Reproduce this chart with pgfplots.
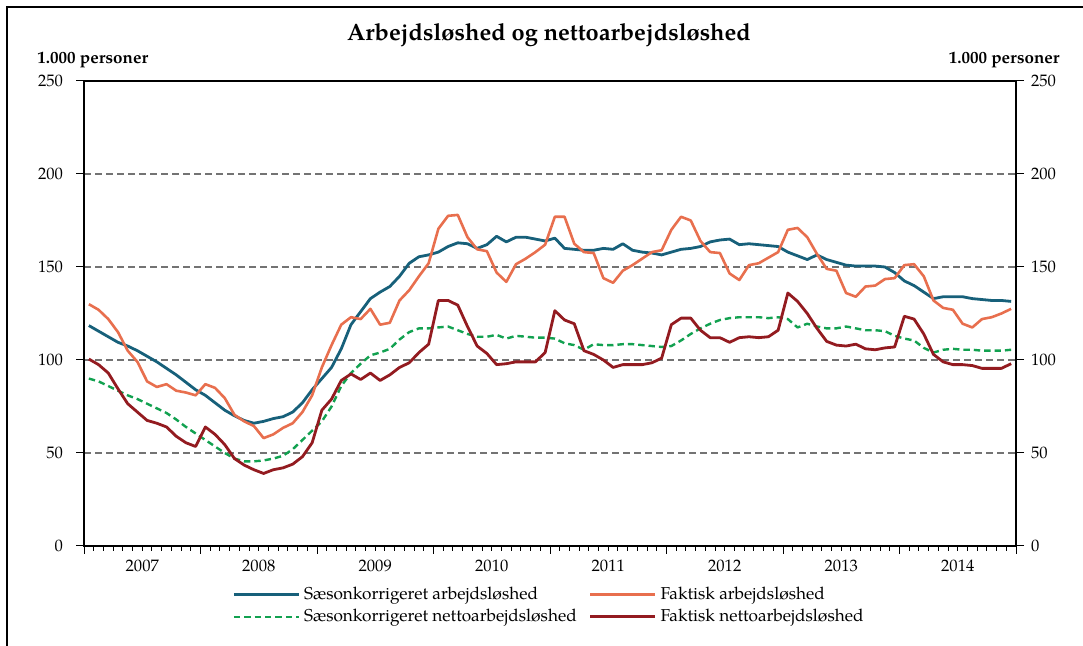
\documentclass[border=0pt]{standalone}
\usepackage{fontspec}
\setmainfont{TeX Gyre Pagella}
\usepackage{pgfplots}
\pgfplotsset{compat=1.18}
\usepackage{pgfplotstable}

\definecolor{teal1}{HTML}{17607A}
\definecolor{orange1}{HTML}{E86F4E}
\definecolor{darkred1}{HTML}{931B20}
\definecolor{green1}{HTML}{12A150}

\pgfplotstableread{
i sa fa sn fn
0 118.5 130 90 100.5
1 115.5 127 88.5 97.5
2 112.5 122 86 93
3 109.5 115 83.5 84.5
4 107.5 105 81 76.5
5 105 99 79 72
6 102 88.5 76.5 67.5
7 99 85.5 74 66
8 95.5 87 71.5 64
9 92 83.5 68 59
10 88 82.5 64 55.5
11 84 81 60.5 53.5
12 81 87 57 64
13 77 85 53.5 60
14 73 79.5 50 54.5
15 70 70.5 47 47
16 67.5 67 45.5 43.5
17 66 64.5 45.5 41
18 67 58 46 39
19 68.5 60 47 41
20 69.5 63.5 48.5 42
21 72 66 52 44
22 77 72 57 48
23 84 81 62 55.5
24 90 96 67 73
25 96 108 75 79
26 106 119 86 89
27 119 123 93 92.5
28 126 122 98 89.5
29 133 127.5 102.5 93
30 136.5 119 104 89
31 139.5 120 106 92
32 145 132 111 96
33 152 137.5 115 98.5
34 155.5 145 117 104
35 156.5 152 117 108.5
36 158 170.5 117.5 132
37 161 177.5 118 132
38 163 178 116 129.5
39 162.5 166 114 118
40 160 159.5 112.5 107.5
41 162 158.5 112.5 103.5
42 166.5 147 113.5 97.5
43 163.5 142 111.5 98
44 166 151.5 113 99
45 166 154.5 112.5 99
46 165 158 112 99
47 164 162 112 104
48 165.5 177 111.5 126.5
49 160 177 109 121.5
50 159.5 162.5 108 119.5
51 159 158 105.5 105
52 159 157.5 108.5 103
53 160 144 108 100
54 159.5 141.5 108 96
55 162.5 148 108.5 97.5
56 159 151 108.5 97.5
57 158 154.5 108 97.5
58 157.5 158 107.5 98.5
59 156.5 159 107 101
60 158 170 107.5 119
61 159.5 177 110.5 122.5
62 160 175 114 122.5
63 161 164 117 116
64 163.5 158 119.5 112
65 164.5 157.5 121.5 112
66 165 146.5 122.5 109.5
67 162 143 123 112
68 162.5 151 123 112.5
69 162 152 123 112
70 161.5 155 122.5 112.5
71 161 158 123 116
72 158 170 122 136
73 156 171 117.5 131.5
74 154 166 119.5 125
75 156.5 157 118 117
76 154 149 117 110
77 152.5 148 117 108
78 151 136 118 107.5
79 150.5 134 117 108.5
80 150.5 139.5 116 106
81 150.5 140 116 105.5
82 150 143.5 115.5 106.5
83 147 144 113 107
84 142.5 151 111.5 123.5
85 140 151.5 110.5 122
86 136.5 145 106.5 114
87 133 132 104 103
88 134 128 105.5 99
89 134 127 106 97.5
90 134 119.5 105.5 97.5
91 133 117.5 105.5 97
92 132.5 122 105 95.5
93 132 123 105 95.5
94 132 125 105 95.5
95 131.5 127.5 105.5 98
}\datatable

\begin{document}
\begin{tikzpicture}
\useasboundingbox (0,0) rectangle (541.5pt,323pt);
\draw[line width=0.6pt] (3.5pt,0pt) -- (3.5pt,319.5pt) -- (541.5pt,319.5pt);
\begin{axis}[
  at={(42pt,50pt)}, anchor=south west,
  scale only axis, width=466pt, height=232.5pt,
  xmin=-0.5, xmax=95.5, ymin=0, ymax=250,
  axis line style={line width=0.6pt},
  xtick={-0.5,11.5,...,95.5}, xticklabels={},
  minor xtick={0.5,1.5,...,94.5},
  extra x ticks={5.5,17.5,...,89.5},
  extra x tick labels={2007,2008,2009,2010,2011,2012,2013,2014},
  extra x tick style={major tick length=0pt, xticklabel style={yshift=-3.5pt}},
  xtick pos=bottom, ytick pos=left, tick align=outside,
  major tick length=4pt, minor tick length=2.5pt,
  tick style={line width=0.5pt, black},
  ytick={0,50,...,250},
  ymajorgrids,
  grid style={black!55, line width=0.6pt, dash pattern=on 3.5pt off 2pt},
  ticklabel style={font=\fontsize{8.3}{10}\selectfont},
  yticklabel style={xshift=-3pt},
  /pgf/number format/assume math mode=true,
  legend columns=2,
  legend cell align=left,
  legend style={draw=none, fill=none, at={(0.1588,-0.078)}, anchor=north west,
    font=\fontsize{8.6}{10}\selectfont, inner sep=0pt, row sep=-0.5pt,
    /tikz/every even column/.append style={column sep=4pt}},
  legend image code/.code={\draw[#1] (0pt,0pt) -- (32.5pt,0pt);},
  every axis plot/.append style={line join=round},
]
\addplot[teal1, line width=1.4pt] table[x=i, y=sa] {\datatable};
\addlegendentry{Sæsonkorrigeret arbejdsløshed}
\addplot[orange1, line width=1.3pt] table[x=i, y=fa] {\datatable};
\addlegendentry{Faktisk arbejdsløshed}
\addplot[green1, line width=1.2pt, dash pattern=on 3.2pt off 2pt] table[x=i, y=sn] {\datatable};
\addlegendentry{Sæsonkorrigeret nettoarbejdsløshed}
\addplot[darkred1, line width=1.4pt] table[x=i, y=fn] {\datatable};
\addlegendentry{Faktisk nettoarbejdsløshed}
\end{axis}
\begin{axis}[
  at={(42pt,50pt)}, anchor=south west,
  scale only axis, width=466pt, height=232.5pt,
  xmin=-0.5, xmax=95.5, ymin=0, ymax=250,
  axis line style={line width=0.6pt},
  xtick=\empty,
  ytick={0,50,...,250},
  ytick pos=right, yticklabel pos=right, tick align=outside,
  major tick length=4pt,
  tick style={line width=0.5pt, black},
  ticklabel style={font=\fontsize{8.3}{10}\selectfont},
  /pgf/number format/assume math mode=true,
]
\end{axis}
\node[font=\bfseries\fontsize{11.8}{14}\selectfont] at (274.5pt,305.5pt) {Arbejdsløshed og nettoarbejdsløshed};
\node[font=\bfseries\fontsize{8.5}{10}\selectfont, anchor=west, inner sep=0pt] at (18.5pt,293pt) {1.000 personer};
\node[font=\bfseries\fontsize{8.5}{10}\selectfont, anchor=east, inner sep=0pt] at (530pt,293pt) {1.000 personer};
\end{tikzpicture}
\end{document}
